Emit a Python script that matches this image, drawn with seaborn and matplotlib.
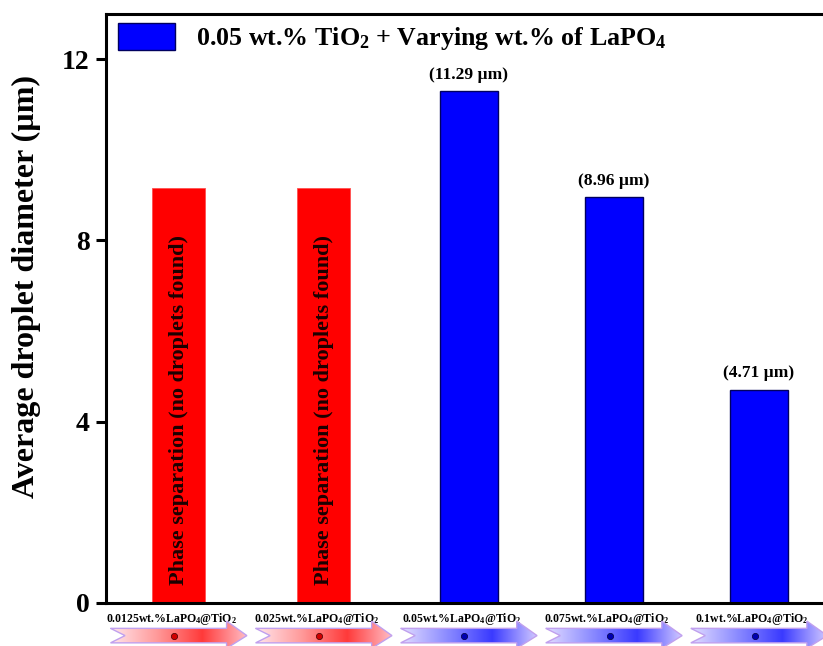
import numpy as np
import matplotlib
matplotlib.use("Agg")
import matplotlib.pyplot as plt
import seaborn as sns
from matplotlib.patches import Patch, Polygon
from matplotlib.colors import LinearSegmentedColormap
from matplotlib.transforms import ScaledTranslation

# data
labels = ["0.0125wt.%LaPO$_4$@TiO$_2$", "0.025wt.%LaPO$_4$@TiO$_2$",
          "0.05wt.%LaPO$_4$@TiO$_2$", "0.075wt.%LaPO$_4$@TiO$_2$",
          "0.1wt.%LaPO$_4$@TiO$_2$"]
diameter = [9.15, 9.15, 11.29, 8.96, 4.71]
group = ["phase", "phase", "droplet", "droplet", "droplet"]
value_text = ["", "", "(11.29 µm)", "(8.96 µm)", "(4.71 µm)"]
phase_text = "Phase separation (no droplets found)"
legend_text = "0.05 wt.% TiO$_2$ + Varying wt.% of LaPO$_4$"

sns.set_style("ticks")
plt.rcParams["font.family"] = ["Liberation Serif", "DejaVu Serif"]
plt.rcParams["font.weight"] = "bold"
plt.rcParams["text.color"] = "black"
plt.rcParams["axes.labelcolor"] = "black"
plt.rcParams["xtick.color"] = "black"
plt.rcParams["ytick.color"] = "black"
plt.rcParams["mathtext.fontset"] = "custom"
plt.rcParams["mathtext.rm"] = "Liberation Serif:bold"
plt.rcParams["mathtext.it"] = "Liberation Serif:bold"
plt.rcParams["mathtext.bf"] = "Liberation Serif:bold"
plt.rcParams["mathtext.default"] = "bf"

fig = plt.figure(figsize=(8.23, 6.46), dpi=100)
ax = fig.add_axes([0.129, 0.0666, 0.899, 0.912])

palette = {"phase": "#ff0000", "droplet": "#0000ff"}
sns.barplot(x=labels, y=diameter, hue=group, palette=palette, dodge=False,
            width=0.4, legend=False, saturation=1, ax=ax)

for p in ax.patches:
    fc = p.get_facecolor()
    if fc[0] > 0.9:  # red bars: slightly narrower, no dark edge
        w = p.get_width()
        p.set_x(p.get_x() + (w - 0.365) / 2)
        p.set_width(0.365)
        p.set_edgecolor("#ff5050")
        p.set_linewidth(0.6)
    else:
        p.set_edgecolor("#000060")
        p.set_linewidth(1.0)

# value labels and phase-separation notes
for i, (v, t, g) in enumerate(zip(diameter, value_text, group)):
    if g == "droplet":
        ax.text(i, v + 0.18, t, ha="center", va="bottom", fontsize=12.5,
                fontweight="bold")
    else:
        ax.text(i, 0.4, phase_text, rotation=90, ha="center", va="bottom",
                fontsize=16, fontweight="bold", color="#1a0000")

# decorative gradient arrows under the tick labels
cmaps = {
    "phase": LinearSegmentedColormap.from_list(
        "r", ["#ffe6ec", "#ff9a9a", "#ff3a3a", "#ffc0c8"]),
    "droplet": LinearSegmentedColormap.from_list(
        "b", ["#e2dcff", "#8c8cff", "#3a3aff", "#d4ccff"]),
}
dot_col = {"phase": "#d00000", "droplet": "#0000b0"}
grad = np.linspace(0, 1, 256).reshape(1, -1)
hw, head, notch = 0.47, 0.14, 0.1
yt, yb, ht, hb = -0.56, -0.88, -0.40, -1.0
for i, g in enumerate(group):
    x0, x1 = i - hw, i + hw
    ym = (yt + yb) / 2
    pts = [(x0, yt), (x1 - head, yt), (x1 - head, ht), (x1, ym),
           (x1 - head, hb), (x1 - head, yb), (x0, yb), (x0 + notch, ym)]
    poly = Polygon(pts, closed=True, facecolor="none", edgecolor="#c0a0ee",
                   linewidth=1.0, clip_on=False, zorder=5)
    ax.add_patch(poly)
    im = ax.imshow(grad, cmap=cmaps[g], extent=(x0, x1, hb, ht),
                   aspect="auto", zorder=4)
    im.set_clip_path(poly)
    im.set_clip_box(fig.bbox)
    ax.plot([i - 0.03], [ym], marker="o", markersize=4.5,
            color=dot_col[g], markeredgecolor="#400000" if g == "phase" else "#000040",
            markeredgewidth=0.5, clip_on=False, zorder=6)

ax.set_xlim(-0.5, 4.6)
ax.set_ylim(0, 13)
ax.set_yticks([0, 4, 8, 12])
ax.set_ylabel("Average droplet diameter (µm)", fontsize=23, fontweight="bold")
ax.yaxis.set_label_coords(-0.088, 0.537)
ax.set_xlabel("")
ax.tick_params(axis="y", labelsize=20, length=7, width=2.2, pad=5)
ax.tick_params(axis="x", labelsize=8.5, length=0, pad=6)
for lab in ax.get_xticklabels():
    lab.set_fontweight("bold")
    lab.set_transform(lab.get_transform() +
                      ScaledTranslation(-5 / 72, 0, fig.dpi_scale_trans))
for lab in ax.get_yticklabels():
    lab.set_fontweight("bold")

for s in ax.spines.values():
    s.set_linewidth(2.2)
    s.set_color("black")
ax.spines["right"].set_visible(False)

handles = [Patch(facecolor="#0000ff", edgecolor="#000060", label=legend_text)]
ax.legend(handles=handles, loc="upper left", frameon=False,
          handlelength=2.2, handleheight=1.25, handletextpad=0.8,
          borderpad=0, borderaxespad=0, bbox_to_anchor=(0.016, 0.985),
          prop={"weight": "bold", "size": 18.7})

fig.savefig("out.png", dpi=100)
